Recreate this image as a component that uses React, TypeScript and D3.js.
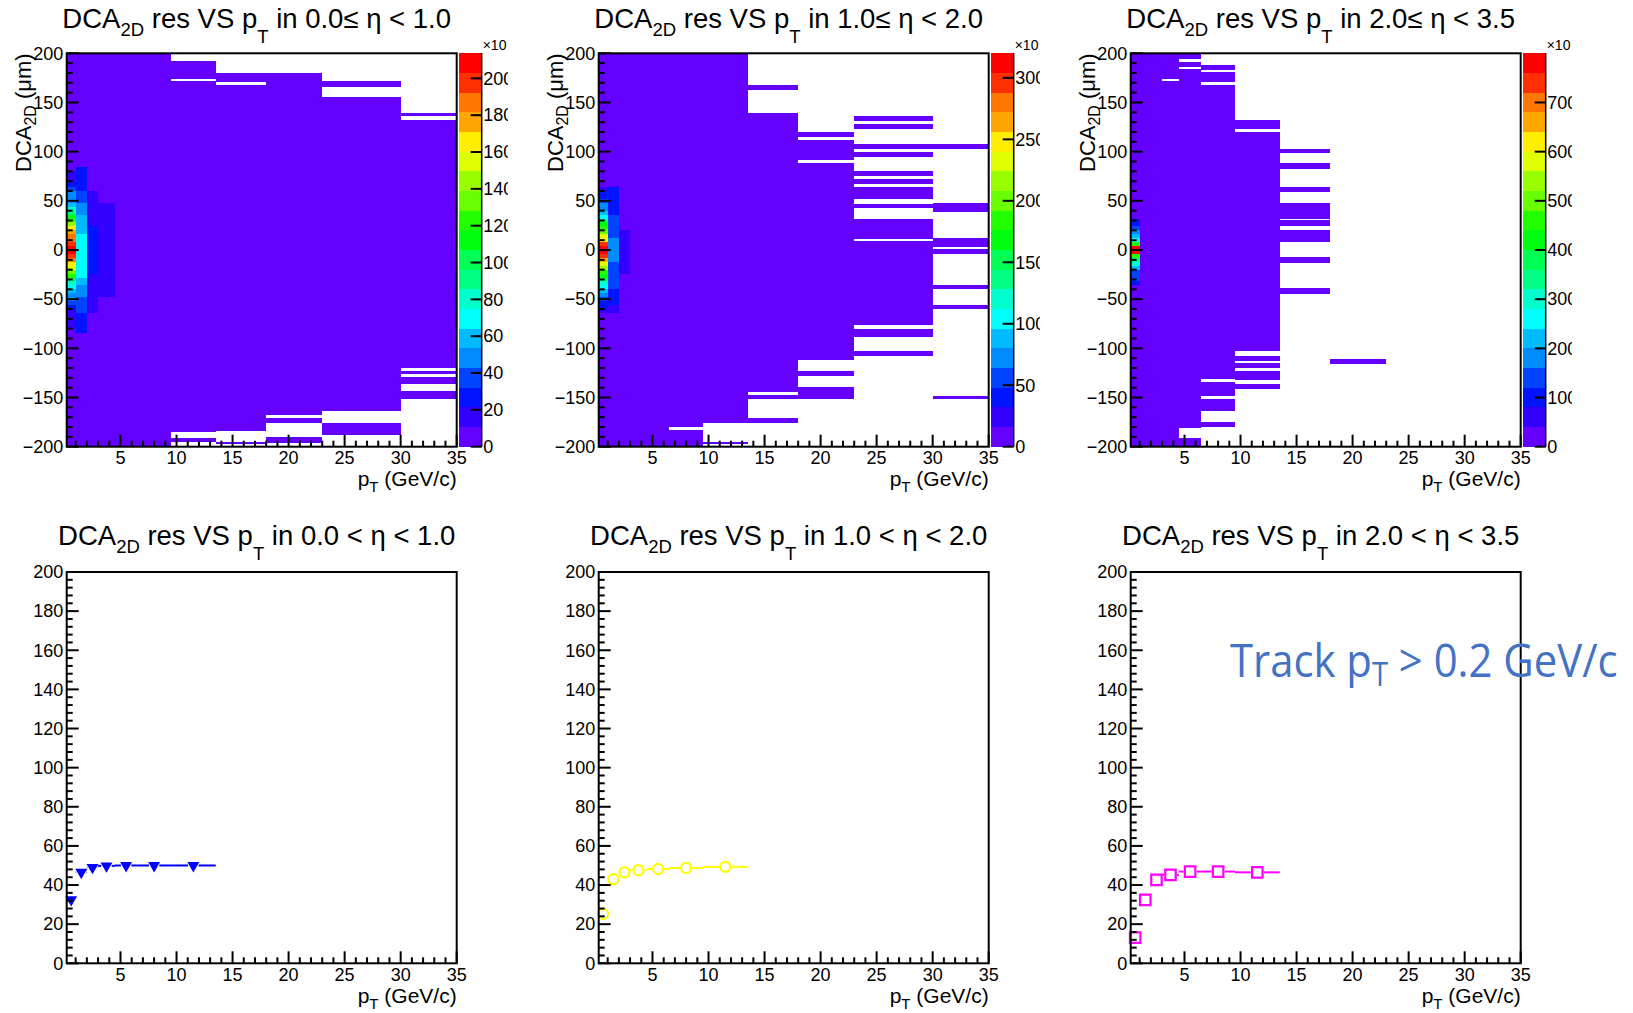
import React from 'react';
import * as d3 from 'd3';

// ---------------- data ----------------
const ptEdges = [0.2, 1, 2, 3, 4.5, 6.5, 9.5, 13.5, 18, 23, 30, 35];
const ptDomain = [0.2, 35];
const ptMajorTicks = [5, 10, 15, 20, 25, 30, 35];
const dcaDomain = [-200, 200];
const dcaTicks = [-200, -150, -100, -50, 0, 50, 100, 150, 200];
const resDomain = [0, 200];
const resTicks = [0, 20, 40, 60, 80, 100, 120, 140, 160, 180, 200];

const etaTop = ['0.0≤ η < 1.0', '1.0≤ η < 2.0', '2.0≤ η < 3.5'];
const etaBottom = ['0.0 < η < 1.0', '1.0 < η < 2.0', '2.0 < η < 3.5'];

// colour-axis maxima and labels (x10^3 entries)
const zMaxEta1 = 213.6;
const zMaxEta2 = 320;
const zMaxEta3 = 800;
const zTicksEta1 = [0, 20, 40, 60, 80, 100, 120, 140, 160, 180, 200];
const zTicksEta2 = [0, 50, 100, 150, 200, 250, 300];
const zTicksEta3 = [0, 100, 200, 300, 400, 500, 600, 700];

// content of sparsely populated bins (x10^3 entries)
const lowCount = 1;

type Interval = [number, number];
const FULL: Interval[] = [[-200, 200]];

// populated DCA ranges (um) per pT bin
const filledEta1: Interval[][] = [
  FULL, FULL, FULL, FULL, FULL, FULL,
  [[-195, -191], [-185, 172], [174, 192]],
  [[-197, -195], [-184, 168], [171, 180]],
  [[-196, -190], [-176, -171], [-168, 180]],
  [[-188, -176], [-164, 156], [166, 172]],
  [[-152, -143], [-136, -129], [-126, -123], [-120, 132], [136, 139]],
];
const filledEta2: Interval[][] = [
  FULL, FULL, FULL, FULL, FULL,
  [[-200, -183], [-180, 200]],
  [[-197, -195], [-176, 200]],
  [[-176, -171], [-152, -147], [-144, 139], [163, 168]],
  [[-152, -139], [-128, -123], [-112, 88], [92, 112], [115, 120]],
  [[-108, -103], [-88, -80], [-76, 9], [11, 32], [43, 47], [52, 64], [67, 72], [75, 80], [95, 100], [103, 108], [123, 128], [131, 136]],
  [[-152, -148], [-60, -56], [-40, -36], [-4, 1], [3, 12], [39, 48], [103, 108]],
];
const filledEta3: Interval[][] = [
  FULL, FULL, FULL,
  [[-200, 172], [174, 200]],
  [[-200, -191], [-181, 184], [186, 191], [194, 200]],
  [[-180, -175], [-164, -151], [-148, -134], [-131, 168], [171, 181], [183, 188]],
  [[-141, -136], [-132, -123], [-120, -115], [-113, -108], [-103, 120], [123, 132]],
  [[-45, -39], [-13, -7], [8, 20], [24, 30], [32, 48], [59, 64], [82, 88], [99, 103]],
  [[-116, -111]],
  [],
  [],
];

type Core = { col: number; top: number; step: number; values: number[] };
// densely populated core: counts (x10^3) in 4 um DCA bins, from `top` downward
const coreEta1: Core[] = [
  { col: 0, top: 80, step: 4, values: [13, 16, 20, 26, 33, 45, 50, 53, 60, 75, 95, 112, 124, 145, 162, 175, 182, 190, 200, 210, 207, 195, 185, 165, 150, 135, 118, 100, 85, 72, 62, 50, 45, 38, 30, 20, 18, 16, 14, 12] },
  { col: 1, top: 84, step: 4, values: [24, 25, 26, 27, 28, 30, 34, 37, 40, 45, 48, 52, 55, 57, 59, 61, 63, 65, 67, 69, 70, 70, 69, 68, 67, 66, 65, 64.5, 60, 56, 52, 48, 45, 41, 38, 35, 33, 31, 29, 27, 25, 23] },
  { col: 2, top: 60, step: 4, values: [12, 13, 14, 15, 16, 17, 18, 19, 20.5, 22, 23, 24, 25, 25, 26, 26, 25, 25, 24, 23, 22, 21, 20, 19, 18, 17, 16, 15, 14, 13, 12] },
  { col: 3, top: 48, step: 4, values: [11, 12, 13, 14, 15, 16, 17, 17, 18, 18, 18, 18, 18, 18, 18, 18, 17, 17, 16, 15, 14, 13, 12, 11] },
];
const coreEta2: Core[] = [
  { col: 0, top: 64, step: 4, values: [30, 36, 42, 55, 68, 78, 92, 110, 140, 165, 180, 200, 225, 255, 290, 315, 312, 292, 262, 235, 210, 185, 168, 150, 125, 100, 85, 70, 55, 42, 36, 30] },
  { col: 1, top: 64, step: 4, values: [36, 38, 40, 42, 44, 46, 47, 50, 53, 56, 58, 60, 62, 66, 68, 70, 70, 68, 66, 62, 60, 58, 56, 54, 52, 50, 44, 40, 36, 33, 31, 29] },
  { col: 2, top: 20, step: 4, values: [18, 20, 22, 24, 26, 27, 26, 24, 22, 20, 18] },
];
const coreEta3: Core[] = [
  { col: 0, top: 32, step: 4, values: [90, 110, 130, 160, 215, 250, 450, 790, 785, 460, 330, 290, 215, 140, 130, 120, 90] },
];

// DCA2D resolution (um) vs pT
const profPtCenters = [0.6, 1.5, 2.5, 3.75, 5.5, 8, 11.5];
const profPtLow = [0.2, 1, 2, 3, 4.5, 6.5, 9.5];
const profPtHigh = [1, 2, 3, 4.5, 6.5, 9.5, 13.5];
const resEta1 = [32.5, 46.5, 49, 49.8, 50, 50, 50];
const resEta2 = [25.2, 43, 46.5, 47.6, 48.2, 48.7, 49.3];
const resEta3 = [13.1, 32.4, 42.6, 45.2, 46.9, 46.9, 46.5];

// ---------------- layout / style ----------------
const W = 1633, H = 1013;
const COL_OFF = 532;
const PAD_W = 508;
const FRAME_L = 66.7, FRAME_W = 390;
const TOP_T = 53.3, TOP_B = 446.7;
const BOT_T = 572, BOT_B = 963.3;
const FONT = "'Liberation Sans', Arial, Helvetica, sans-serif";
const LBL = 18;
const TITLE = 27.5;
const SUB = 18.5;
const AXT = 21;

const palette: string[] = d3.range(20).map((k) => {
  const idx = Math.floor(((k + 0.99) * 50) / 20);
  const hue = 280 - 5.6 * (idx + 1);
  return d3.hsl(hue, 1, 0.5).formatHex();
});

const minus = (v: number) => (v < 0 ? '\u2212' + Math.abs(v) : String(v));

function Title({ cx, y, eta }: { cx: number; y: number; eta: string }) {
  return (
    <text x={cx} y={y} textAnchor="middle" fontFamily={FONT} fontSize={TITLE} fill="#000">
      <tspan>DCA</tspan>
      <tspan dy={7.7} fontSize={SUB}>2D</tspan>
      <tspan dy={-7.7}>{' res VS p'}</tspan>
      <tspan dy={15} fontSize={SUB}>T</tspan>
      <tspan dy={-15}>{' in ' + eta}</tspan>
    </text>
  );
}

function XAxis({ x, L, R, B }: any) {
  const minor = d3.range(1, 36).filter((v) => v % 5 !== 0);
  return (
    <g>
      {minor.map((v) => (
        <line key={'m' + v} x1={x(v)} x2={x(v)} y1={B} y2={B - 6} stroke="#000" strokeWidth={2} />
      ))}
      {ptMajorTicks.map((v) => (
        <g key={'M' + v}>
          <line x1={x(v)} x2={x(v)} y1={B} y2={B - 12} stroke="#000" strokeWidth={2} />
          <text x={x(v)} y={B + 17.5} textAnchor="middle" fontFamily={FONT} fontSize={LBL}>{v}</text>
        </g>
      ))}
      <text x={R} y={B + 39.5} textAnchor="end" fontFamily={FONT} fontSize={AXT}>
        <tspan>p</tspan>
        <tspan dy={6} fontSize={15}>T</tspan>
        <tspan dy={-6}>{' (GeV/c)'}</tspan>
      </text>
    </g>
  );
}

function YAxis({ y, L, ticks, minorStep, domain }: any) {
  const minor = d3.range(domain[0], domain[1] + 0.001, minorStep).filter((v: number) => !ticks.includes(v));
  return (
    <g>
      {minor.map((v: number) => (
        <line key={'m' + v} x1={L} x2={L + 6} y1={y(v)} y2={y(v)} stroke="#000" strokeWidth={2} />
      ))}
      {ticks.map((v: number) => (
        <g key={'M' + v}>
          <line x1={L} x2={L + 12} y1={y(v)} y2={y(v)} stroke="#000" strokeWidth={2} />
          <text x={L - 3.5} y={y(v) + 6.3} textAnchor="end" fontFamily={FONT} fontSize={LBL}>{minus(v)}</text>
        </g>
      ))}
    </g>
  );
}

function Heatmap({ col, filled, core, zMax, zTicks, eta }: any) {
  const off = col * COL_OFF;
  const L = FRAME_L + off, R = L + FRAME_W, T = TOP_T, B = TOP_B;
  const x = d3.scaleLinear().domain(ptDomain).range([L, R]);
  const y = d3.scaleLinear().domain(dcaDomain).range([B, T]);
  const color = d3.scaleQuantize<string>().domain([0, zMax]).range(palette);
  const z = d3.scaleLinear().domain([0, zMax]).range([B, T]);
  const cbL = R + 2.5, cbR = R + 25;
  const levels = d3.range(20).map((k) => (k * zMax) / 20);
  return (
    <g clipPath={`url(#pad${col})`}>
      <Title cx={L + 190} y={28.3} eta={eta} />
      {filled.map((ivs: Interval[], i: number) =>
        ivs.map(([lo, hi], j) => (
          <rect key={`f${i}-${j}`} x={x(ptEdges[i])} width={x(ptEdges[i + 1]) - x(ptEdges[i])}
            y={y(hi)} height={y(lo) - y(hi)} fill={color(lowCount)} shapeRendering="crispEdges" />
        ))
      )}
      {core.map((blk: Core, b: number) =>
        blk.values.map((v, j) => {
          const hi = blk.top - j * blk.step;
          const lo = hi - blk.step;
          return (
            <rect key={`c${b}-${j}`} x={x(ptEdges[blk.col])} width={x(ptEdges[blk.col + 1]) - x(ptEdges[blk.col])}
              y={y(hi)} height={y(lo) - y(hi)} fill={color(v)} shapeRendering="crispEdges" />
          );
        })
      )}
      <rect x={L} y={T} width={FRAME_W} height={B - T} fill="none" stroke="#000" strokeWidth={2} />
      <XAxis x={x} L={L} R={R} B={B} />
      <YAxis y={y} L={L} ticks={dcaTicks} minorStep={10} domain={dcaDomain} />
      <text transform={`translate(${L - 36},${T}) rotate(-90)`} textAnchor="end" fontFamily={FONT} fontSize={22}>
        <tspan>DCA</tspan>
        <tspan dy={5} fontSize={16}>2D</tspan>
        <tspan dy={-5}>{' (μm)'}</tspan>
      </text>
      {/* colour bar */}
      {levels.map((lv, k) => (
        <rect key={'cb' + k} x={cbL} width={cbR - cbL} y={z(lv + zMax / 20)} height={z(lv) - z(lv + zMax / 20)}
          fill={color(lv + zMax / 40)} shapeRendering="crispEdges" />
      ))}
      <line x1={cbR} x2={cbR} y1={T} y2={B} stroke="#000" strokeWidth={1.5} />
      {zTicks.map((v: number) => (
        <g key={'z' + v}>
          <line x1={cbR - 11} x2={cbR} y1={z(v)} y2={z(v)} stroke="#000" strokeWidth={2} />
          <text x={cbR + 1.5} y={z(v) + 6.3} fontFamily={FONT} fontSize={LBL}>{v}</text>
        </g>
      ))}
      <text x={cbR + 1} y={50} fontFamily={FONT} fontSize={14}>
        ×10<tspan dx={3} dy={-6} fontSize={10}>3</tspan>
      </text>
    </g>
  );
}

function Profile({ col, values, marker, color, eta }: any) {
  const off = col * COL_OFF;
  const L = FRAME_L + off, R = L + FRAME_W, T = BOT_T, B = BOT_B;
  const x = d3.scaleLinear().domain(ptDomain).range([L, R]);
  const y = d3.scaleLinear().domain(resDomain).range([B, T]);
  const sym =
    marker === 'tri'
      ? d3.symbol().type(d3.symbolTriangle).size(62)()
      : marker === 'circle'
      ? d3.symbol().type(d3.symbolCircle).size(80)()
      : d3.symbol().type(d3.symbolSquare).size(110)();
  const gap = marker === 'tri' ? 5.2 : marker === 'circle' ? 6 : 6.5;
  return (
    <g clipPath={`url(#pad${col})`}>
      <Title cx={L + 190} y={545} eta={eta} />
      {values.map((v: number, i: number) => {
        const xc = x(profPtCenters[i]), yv = y(v);
        const xl = x(profPtLow[i]), xh = x(profPtHigh[i]);
        return (
          <g key={'e' + i}>
            {xc - gap > xl && <line x1={xl} x2={xc - gap} y1={yv} y2={yv} stroke={color} strokeWidth={2} />}
            {xh > xc + gap && <line x1={xc + gap} x2={xh} y1={yv} y2={yv} stroke={color} strokeWidth={2} />}
          </g>
        );
      })}
      {values.map((v: number, i: number) => (
        <path key={'p' + i} d={sym as string}
          transform={`translate(${x(profPtCenters[i])},${y(v)})${marker === 'tri' ? ' rotate(180)' : ''}`}
          fill={marker === 'tri' ? color : 'none'} stroke={color} strokeWidth={marker === 'tri' ? 0 : 2.2} />
      ))}
      <rect x={L} y={T} width={FRAME_W} height={B - T} fill="none" stroke="#000" strokeWidth={2} />
      <XAxis x={x} L={L} R={R} B={B} />
      <YAxis y={y} L={L} ticks={resTicks} minorStep={4} domain={resDomain} />
    </g>
  );
}

export default function App() {
  return (
    <svg width={W} height={H} viewBox={`0 0 ${W} ${H}`}
      style={{ position: 'absolute', left: 0, top: 0, background: '#fff' }}>
      <defs>
        {[0, 1, 2].map((c) => (
          <clipPath key={c} id={`pad${c}`}>
            <rect x={c * COL_OFF} y={0} width={PAD_W} height={H} />
          </clipPath>
        ))}
      </defs>
      <rect x={0} y={0} width={W} height={H} fill="#fff" />
      <Heatmap col={0} filled={filledEta1} core={coreEta1} zMax={zMaxEta1} zTicks={zTicksEta1} eta={etaTop[0]} />
      <Heatmap col={1} filled={filledEta2} core={coreEta2} zMax={zMaxEta2} zTicks={zTicksEta2} eta={etaTop[1]} />
      <Heatmap col={2} filled={filledEta3} core={coreEta3} zMax={zMaxEta3} zTicks={zTicksEta3} eta={etaTop[2]} />
      <Profile col={0} values={resEta1} marker="tri" color="#0000ff" eta={etaBottom[0]} />
      <Profile col={1} values={resEta2} marker="circle" color="#ffff00" eta={etaBottom[1]} />
      <Profile col={2} values={resEta3} marker="square" color="#ff00ff" eta={etaBottom[2]} />
      <text transform="translate(1230,677) scale(0.91,1)" fontFamily="'Open Sans', 'Noto Sans', sans-serif"
        fontSize={46} fill="#4472C4">
        <tspan>Track p</tspan>
        <tspan dy={9} fontSize={32}>T</tspan>
        <tspan dy={-9}>{' > 0.2 GeV/c'}</tspan>
      </text>
    </svg>
  );
}
